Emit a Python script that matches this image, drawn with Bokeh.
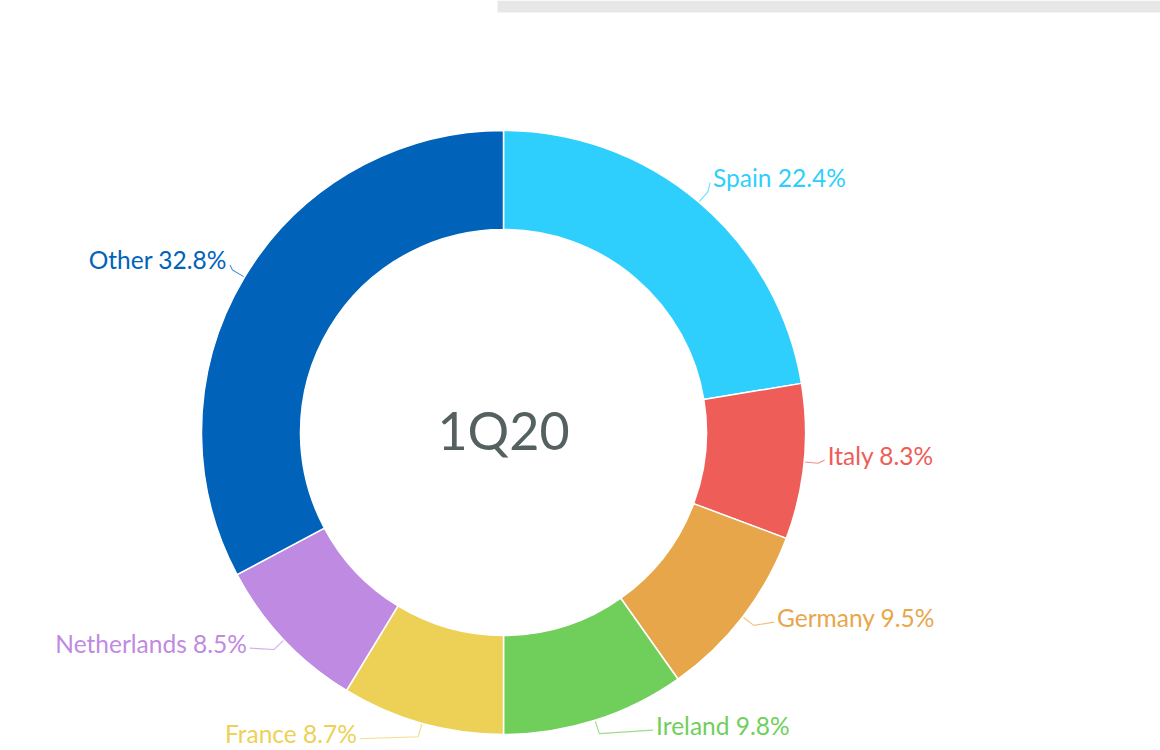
import math
from bokeh.plotting import figure
from bokeh.models import Range1d, ColumnDataSource
from bokeh.core.properties import value
from bokeh.embed import file_html
from bokeh.resources import INLINE

# ---- data ----
countries = ["Spain", "Italy", "Germany", "Ireland", "France", "Netherlands", "Other"]
shares = [22.4, 8.3, 9.5, 9.8, 8.7, 8.5, 32.8]
colors = ["#2fcffd", "#ee5d58", "#e8a64a", "#70cf5b", "#edd156", "#bf8ae2", "#0062b9"]
center_label = "1Q20"

# ---- layout ----
W, H = 1160, 750
OX, OY = 0, 0              # page position of the figure's top-left corner
CX, CY = 503, 432          # page position of the donut centre
R_OUT, R_IN = 302, 203
R_LABEL = 330
label_nudge_deg = [-0.9, -1.6, -3.6, -9.9, 10.3, 4.0, 1.0]
label_dr = [0, -5, 0, 0, 5, 2, -4]
FONT = "Lato"

total = sum(shares)
starts, ends, mids = [], [], []
acc = 0.0
for s in shares:
    a0 = acc / total * 2 * math.pi
    acc += s
    a1 = acc / total * 2 * math.pi
    starts.append(math.pi / 2 - a0)
    ends.append(math.pi / 2 - a1)
    mids.append((a0 + a1) / 2)   # clockwise from 12 o'clock

p = figure(width=W, height=H, output_backend="svg", toolbar_location=None,
           x_range=Range1d(OX - CX, OX + W - CX), y_range=Range1d(CY - OY - H, CY - OY),
           min_border=0)
p.axis.visible = False
p.grid.visible = False
p.outline_line_color = None
p.background_fill_color = "#ffffff"
p.border_fill_color = "#ffffff"

# grey strip at top right of the page
p.quad(left=[497 - CX], right=[OX + W - CX], top=[CY], bottom=[CY - 12],
       fill_color="#e7e7e7", line_color=None)

src = ColumnDataSource(dict(start=starts, end=ends, color=colors, name=countries))
p.annular_wedge(x=0, y=0, inner_radius=R_IN, outer_radius=R_OUT,
                start_angle="start", end_angle="end", direction="clock",
                fill_color="color", line_color="#ffffff", line_width=1.5, source=src)

# labels and leader lines
lx, ly, ltxt, lalign, lcol = [], [], [], [], []
xs, ys = [], []
for name, s, c, m, nd, dr in zip(countries, shares, colors, mids, label_nudge_deg, label_dr):
    la = m + math.radians(nd)
    r = R_LABEL + dr
    tx, ty = r * math.sin(la), r * math.cos(la)
    right = math.sin(la) >= 0
    lx.append(tx)
    ly.append(ty)
    ltxt.append(f"{name} {s}%")
    lalign.append("left" if right else "right")
    lcol.append(c)
    ox, oy = (R_OUT + 1) * math.sin(m), (R_OUT + 1) * math.cos(m)
    ex, ey = (R_OUT + 14) * math.sin(m), (R_OUT + 14) * math.cos(m)
    end_x = tx - 3 if right else tx + 3
    xs.append([ox, ex, end_x])
    ys.append([oy, ey, ty - 5])

p.multi_line(xs=xs, ys=ys, line_color=lcol, line_alpha=0.7, line_width=1.1)

lsrc = ColumnDataSource(dict(x=lx, y=ly, t=ltxt, a=lalign, c=lcol))
p.text(x="x", y="y", text="t", text_align="a", text_baseline="middle",
       text_color="c", text_font=value(FONT), text_font_size="24.5px", source=lsrc)

p.text(x=[0], y=[3], text=[center_label], text_align="center", text_baseline="middle",
       text_color="#556060", text_font=value(FONT), text_font_size="52px")

open("out.html", "w").write(file_html(p, INLINE))
